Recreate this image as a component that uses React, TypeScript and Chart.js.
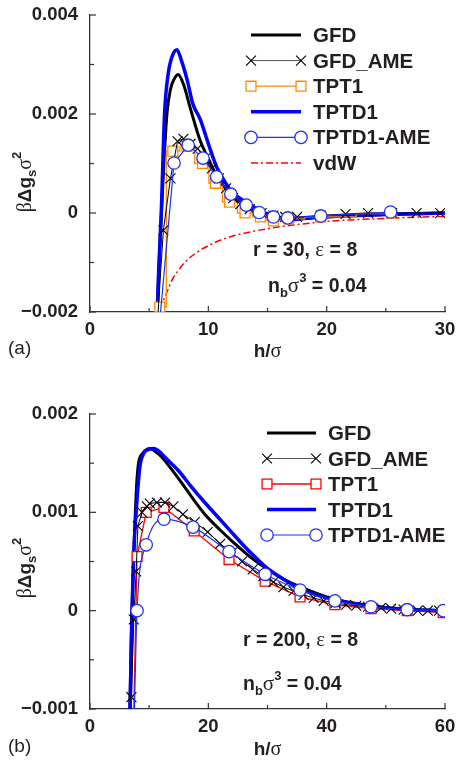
import React, { useEffect, useRef } from 'react';
import { Chart, registerables } from 'chart.js';

Chart.register(...registerables);

const SANS = '"Liberation Sans", Arial, Helvetica, sans-serif';
const SERIF = '"Liberation Serif", "DejaVu Serif", serif';

// ---------------- Panel (a): r = 30 ----------------
const aGfdH = [5.6, 5.8, 6.0, 6.2, 6.5, 6.8, 7.1, 7.45, 7.9, 8.5, 9.3, 10.0, 10.7, 11.8, 13.0, 14.0, 15.0, 17.0, 20.0, 25.0, 30.0];
const aGfdV = [-0.0025, -0.0012, -0.0002, 0.0008, 0.002, 0.0025, 0.0027, 0.0028, 0.0026, 0.0021, 0.00147, 0.0011, 0.00075, 0.0004, 0.0002, 0.00005, -0.00005, -0.00012, -0.00008, -0.00003, 0.0];

const aGfdAmeH = [5.7, 6.2, 6.8, 7.4, 7.9, 8.5, 9.1, 9.7, 10.3, 10.9, 11.5, 12.1, 12.7, 13.5, 14.5, 15.5, 16.5, 17.5, 19.5, 21.6, 23.5, 25.5, 27.6, 29.6];
const aGfdAmeV = [-0.0022, -0.00035, 0.0007, 0.00145, 0.0015, 0.0014, 0.0013, 0.0011, 0.0009, 0.0007, 0.0005, 0.0003, 0.00018, 0.00008, 0.0, -0.00005, -0.00008, -0.00008, -0.00005, -0.00002, 0.0, 0.0, 0.0, 0.0];

const aTpt1H = [5.9, 7.0, 8.2, 9.5, 10.6, 11.8, 13.1, 14.4, 15.5, 16.8, 19.5, 25.5];
const aTpt1V = [-0.0019, 0.00125, 0.00135, 0.001, 0.0006, 0.00022, 0.0, -0.00008, -0.00016, -0.00012, -0.00008, -0.00001];

const aTptd1H = [5.62, 5.8, 6.02, 6.3, 6.6, 7.0, 7.35, 7.7, 8.2, 8.7, 9.3, 10.0, 10.7, 11.4, 12.1, 12.9, 14.0, 15.0, 16.6, 19.4, 25.0, 30.0];
const aTptd1V = [-0.0025, -0.0012, 0.0, 0.002, 0.0028, 0.0032, 0.0033, 0.0031, 0.0027, 0.0022, 0.0019, 0.0014, 0.00093, 0.00063, 0.0004, 0.00026, 0.0001, -0.00002, -0.00014, -0.00008, -0.00003, 0.0];

const aTptd1AmeH = [5.85, 7.1, 8.3, 9.55, 10.7, 11.9, 13.2, 14.3, 15.5, 16.7, 19.5, 25.4];
const aTptd1AmeV = [-0.0023, 0.00101, 0.00137, 0.00111, 0.00073, 0.00038, 0.00016, 0.00001, -0.00008, -0.0001, -0.00006, 0.00002];

const aVdwH = [5.9, 6.5, 7.0, 7.5, 8.0, 9.0, 10.0, 11.0, 12.0, 13.0, 14.0, 16.0, 18.0, 20.0, 22.0, 25.0, 28.0, 30.0];
const aVdwV = [-0.00195, -0.0016, -0.00132, -0.00115, -0.001, -0.0008, -0.00066, -0.00055, -0.00047, -0.00041, -0.00036, -0.00028, -0.00022, -0.00017, -0.00014, -0.00011, -0.00008, -0.00007];

const aXTicks = [0, 10, 20, 30];
const aXTickLabels = ['0', '10', '20', '30'];
const aYTicks = [-0.002, 0, 0.002, 0.004];
const aYTickLabels = ['\u22120.002', '0', '0.002', '0.004'];
const aLegend = ['GFD', 'GFD_AME', 'TPT1', 'TPTD1', 'TPTD1-AME', 'vdW'];

// ---------------- Panel (b): r = 200 ----------------
const bGfdH = [6.6, 6.8, 7.0, 7.3, 7.6, 7.9, 8.2, 8.9, 9.6, 10.2, 11.0, 12.0, 13.5, 15.5, 17.5, 19.4, 22.0, 24.5, 27.0, 30.0, 33.0, 36.0, 40.0, 45.0, 50.0, 55.0, 60.0];
const bGfdV = [-0.0013, -0.0008, -0.0002, 0.0004, 0.0009, 0.0013, 0.0015, 0.0016, 0.00164, 0.00165, 0.00162, 0.00157, 0.00146, 0.0013, 0.00113, 0.00098, 0.00082, 0.00068, 0.00055, 0.00042, 0.00031, 0.00023, 0.00014, 0.00007, 0.00003, 0.00001, 0.0];

const bGfdAmeH = [7.0, 7.4, 7.8, 8.1, 8.8, 9.6, 10.1, 11.3, 12.7, 14.1, 15.7, 17.7, 19.9, 22.0, 24.0, 25.7, 27.5, 29.3, 31.0, 32.7, 34.4, 36.1, 37.8, 39.5, 41.5, 43.3, 45.0, 47.0, 49.2, 50.9, 53.0, 55.4, 57.1, 59.0];
const bGfdAmeV = [-0.00088, -0.00009, 0.0004, 0.00086, 0.001, 0.00106, 0.00109, 0.0011, 0.0011, 0.00106, 0.00098, 0.0009, 0.0008, 0.00068, 0.00059, 0.0005, 0.00042, 0.00035, 0.00029, 0.00024, 0.0002, 0.00016, 0.00013, 0.0001, 0.00008, 0.00006, 0.00005, 0.00004, 0.00003, 0.00002, 0.00001, 0.0, 0.0, 0.0];

const bTpt1H = [7.3, 7.95, 9.5, 12.5, 17.6, 23.5, 29.6, 35.5, 41.4, 47.5, 53.6, 59.7];
const bTpt1V = [-0.0013, 0.00055, 0.001, 0.00105, 0.00081, 0.00052, 0.0003, 0.00014, 0.00006, 0.00002, 0.0, -0.00002];

const bTptd1H = [6.7, 6.9, 7.1, 7.4, 7.8, 8.4, 9.1, 10.0, 10.7, 11.5, 13.0, 15.0, 17.0, 19.4, 21.5, 23.3, 26.0, 28.0, 30.0, 33.0, 36.0, 40.0, 45.0, 50.0, 55.0, 60.0];
const bTptd1V = [-0.0013, -0.0006, 0.0, 0.0006, 0.001, 0.00145, 0.0016, 0.00164, 0.00165, 0.00163, 0.00154, 0.00142, 0.00127, 0.0011, 0.00096, 0.00084, 0.00066, 0.00054, 0.00043, 0.00031, 0.00021, 0.00013, 0.00007, 0.00003, 0.00001, 0.0];

const bTptd1AmeH = [7.4, 7.95, 9.5, 12.5, 17.4, 23.5, 29.6, 35.5, 41.4, 47.5, 53.6, 59.7];
const bTptd1AmeV = [-0.0013, 0.0, 0.00067, 0.00093, 0.00085, 0.0006, 0.00037, 0.00021, 0.0001, 0.00004, 0.00001, 0.0];

const bXTicks = [0, 20, 40, 60];
const bXTickLabels = ['0', '20', '40', '60'];
const bYTicks = [-0.001, 0, 0.001, 0.002];
const bYTickLabels = ['\u22120.001', '0', '0.001', '0.002'];
const bLegend = ['GFD', 'GFD_AME', 'TPT1', 'TPTD1', 'TPTD1-AME'];

// ---------------- styles ----------------
const ORANGE = '#FF8A00';
const BLUE = '#0000FF';
const BLUE_THIN = '#2030FF';
const RED = '#FF0000';
const INK = '#231f20';

type Marker = { style: 'circle' | 'rect' | 'crossRot'; r: number; stroke: string; fill: string; lw: number };
type Sty = { color: string; width: number; legendColor?: string; dash?: number[]; marker?: Marker; stepped?: any; smooth?: boolean; order: number };

const makeStyles = (tptColor: string, ameSmooth: boolean): Record<string, Sty> => ({
  GFD: { color: '#000', width: 3, smooth: true, order: 4 },
  GFD_AME: { color: '#000', legendColor: '#555', width: 1, marker: { style: 'crossRot', r: 7, stroke: '#000', fill: 'rgba(0,0,0,0)', lw: 1.1 }, order: 1 },
  TPT1: { color: tptColor, width: 1.3, stepped: tptColor === ORANGE ? 'middle' : false, marker: { style: 'rect', r: 7, stroke: tptColor, fill: '#fff', lw: 1.3 }, order: 2 },
  TPTD1: { color: BLUE, width: 3.5, smooth: true, order: 3 },
  'TPTD1-AME': { color: BLUE_THIN, width: 1.2, smooth: ameSmooth, marker: { style: 'circle', r: 6.2, stroke: BLUE_THIN, fill: '#fff', lw: 1.3 }, order: 0 },
  vdW: { color: RED, width: 1.5, dash: [7, 3, 2, 3], smooth: true, order: 5 },
});

function dataset(name: string, h: number[], v: number[], st: Sty) {
  const m = st.marker;
  return {
    label: name,
    data: h.map((x, i) => ({ x, y: v[i] })),
    showLine: true,
    borderColor: st.color,
    borderWidth: st.width,
    borderDash: st.dash || [],
    stepped: st.stepped || false,
    cubicInterpolationMode: st.smooth ? 'monotone' : 'default',
    tension: 0,
    pointRadius: m ? m.r : 0,
    pointHoverRadius: m ? m.r : 0,
    pointStyle: m ? m.style : 'circle',
    pointBackgroundColor: m ? m.fill : 'transparent',
    pointBorderColor: m ? m.stroke : 'transparent',
    pointBorderWidth: m ? m.lw : 0,
    order: st.order,
  };
}

type Seg = { t: string; f: string; dy?: number };
const B = (s: number) => `bold ${s}px ${SANS}`;
const N = (s: number) => `${s}px ${SANS}`;
const G = (s: number) => `${s}px ${SERIF}`;

function richWidth(ctx: CanvasRenderingContext2D, segs: Seg[]) {
  let w = 0;
  for (const s of segs) { ctx.font = s.f; w += ctx.measureText(s.t).width; }
  return w;
}
function drawRich(ctx: CanvasRenderingContext2D, segs: Seg[], x: number, y: number) {
  let cx = x;
  for (const s of segs) {
    ctx.font = s.f;
    ctx.fillText(s.t, cx, y + (s.dy || 0));
    cx += ctx.measureText(s.t).width;
  }
}

function drawMarker(ctx: CanvasRenderingContext2D, m: Marker, x: number, y: number) {
  ctx.save();
  ctx.lineWidth = m.lw;
  ctx.strokeStyle = m.stroke;
  ctx.fillStyle = m.fill;
  ctx.setLineDash([]);
  ctx.beginPath();
  if (m.style === 'circle') {
    ctx.arc(x, y, m.r, 0, Math.PI * 2);
    ctx.fill(); ctx.stroke();
  } else if (m.style === 'rect') {
    const s = Math.SQRT1_2 * m.r;
    ctx.rect(x - s, y - s, 2 * s, 2 * s);
    ctx.fill(); ctx.stroke();
  } else {
    const s = Math.SQRT1_2 * m.r;
    ctx.moveTo(x - s, y - s); ctx.lineTo(x + s, y + s);
    ctx.moveTo(x + s, y - s); ctx.lineTo(x - s, y + s);
    ctx.stroke();
  }
  ctx.restore();
}

type Panel = {
  top: number;
  xAxisH: number;
  xMax: number; xStep: number; xTicks: number[]; xTickLabels: string[];
  yMin: number; yMax: number; yStep: number; yTicks: number[]; yTickLabels: string[];
  series: { name: string; h: number[]; v: number[] }[];
  styles: Record<string, Sty>;
  legend: string[];
  legendY0: number; legendDy: number; legendX1: number; legendX2: number; legendTx: number;
  notes: { segs: Seg[]; x: number; y: number }[];
  letter: string; letterY: number;
  xTitleY: number; yTitleCY: number;
};

const mkTickCb = (vals: number[], labels: string[]) => (v: number | string) => {
  const n = Number(v);
  const i = vals.findIndex(t => Math.abs(t - n) < 1e-9);
  return i >= 0 ? labels[i] : '';
};

function buildConfig(p: Panel): any {
  const tickFont = { family: SANS, size: 18.5, weight: 'bold' as const };
  const decor = {
    id: 'decor',
    afterDraw(chart: any) {
      const ctx: CanvasRenderingContext2D = chart.ctx;
      const xs = chart.scales.x, ys = chart.scales.y;
      const area = chart.chartArea;
      ctx.save();
      // inward ticks
      ctx.strokeStyle = '#333';
      ctx.lineWidth = 1.2;
      ctx.setLineDash([]);
      xs.ticks.forEach((t: any) => {
        const px = xs.getPixelForValue(t.value);
        const len = t.label !== '' ? 6 : 4;
        ctx.beginPath(); ctx.moveTo(px, area.bottom); ctx.lineTo(px, area.bottom - len); ctx.stroke();
      });
      ys.ticks.forEach((t: any) => {
        const py = ys.getPixelForValue(t.value);
        const len = t.label !== '' ? 6 : 4;
        ctx.beginPath(); ctx.moveTo(area.left, py); ctx.lineTo(area.left + len, py); ctx.stroke();
      });
      ctx.fillStyle = INK;
      ctx.textBaseline = 'alphabetic';
      ctx.textAlign = 'left';
      // y title
      const ySegs: Seg[] = [
        { t: '\u03B2', f: G(20) },
        { t: '\u0394g', f: B(19) },
        { t: 's', f: B(13), dy: 5 },
        { t: '\u03C3', f: G(20) },
        { t: '2', f: B(13), dy: -10 },
      ];
      ctx.save();
      ctx.translate(31, p.yTitleCY);
      ctx.rotate(-Math.PI / 2);
      const yw = richWidth(ctx, ySegs);
      drawRich(ctx, ySegs, -yw / 2, 0);
      ctx.restore();
      // x title
      const xSegs: Seg[] = [{ t: 'h/', f: B(19) }, { t: '\u03C3', f: G(20) }];
      const xw = richWidth(ctx, xSegs);
      drawRich(ctx, xSegs, (area.left + area.right) / 2 - xw / 2, p.xTitleY);
      // panel letter
      drawRich(ctx, [{ t: p.letter, f: N(19) }], 8, p.letterY);
      // annotations
      p.notes.forEach(n => drawRich(ctx, n.segs, n.x, n.y));
      // legend
      p.legend.forEach((name, i) => {
        const st = p.styles[name];
        const y = p.legendY0 + i * p.legendDy;
        ctx.save();
        ctx.strokeStyle = st.legendColor || st.color;
        ctx.lineWidth = st.width;
        ctx.setLineDash(st.dash || []);
        ctx.beginPath(); ctx.moveTo(p.legendX1, y); ctx.lineTo(p.legendX2, y); ctx.stroke();
        ctx.restore();
        if (st.marker) {
          drawMarker(ctx, st.marker, p.legendX1, y);
          drawMarker(ctx, st.marker, p.legendX2, y);
        }
        ctx.fillStyle = INK;
        drawRich(ctx, [{ t: name, f: B(20.5) }], p.legendTx, y + 7);
      });
      ctx.restore();
    },
  };

  return {
    type: 'scatter',
    data: {
      datasets: p.series.map(s => dataset(s.name, s.h, s.v, p.styles[s.name])),
    },
    options: {
      animation: false,
      responsive: false,
      devicePixelRatio: 1,
      layout: { padding: { left: 0, right: 11, top: p.top, bottom: 0 } },
      plugins: { legend: { display: false }, tooltip: { enabled: false } },
      scales: {
        x: {
          type: 'linear', position: 'bottom', min: 0, max: p.xMax,
          ticks: { stepSize: p.xStep, autoSkip: false, maxRotation: 0, padding: 7, color: INK, font: tickFont, callback: mkTickCb(p.xTicks, p.xTickLabels) },
          grid: { display: false, drawTicks: false },
          border: { display: true, color: '#333', width: 1.3 },
          afterFit: (s: any) => { s.height = p.xAxisH; s.paddingLeft = 0; s.paddingRight = 0; },
        },
        y: {
          type: 'linear', position: 'left', min: p.yMin, max: p.yMax,
          ticks: { stepSize: p.yStep, autoSkip: false, padding: 12, color: INK, font: tickFont, callback: mkTickCb(p.yTicks, p.yTickLabels) },
          grid: { display: false, drawTicks: false },
          border: { display: true, color: '#333', width: 1.3 },
          afterFit: (s: any) => { s.width = 90; s.paddingTop = 0; s.paddingBottom = 0; },
        },
      },
    },
    plugins: [decor],
  };
}

const panelA: Panel = {
  top: 15, xAxisH: 69,
  xMax: 30, xStep: 5, xTicks: aXTicks, xTickLabels: aXTickLabels,
  yMin: -0.002, yMax: 0.004, yStep: 0.001, yTicks: aYTicks, yTickLabels: aYTickLabels,
  series: [
    { name: 'TPTD1-AME', h: aTptd1AmeH, v: aTptd1AmeV },
    { name: 'GFD_AME', h: aGfdAmeH, v: aGfdAmeV },
    { name: 'TPT1', h: aTpt1H, v: aTpt1V },
    { name: 'TPTD1', h: aTptd1H, v: aTptd1V },
    { name: 'GFD', h: aGfdH, v: aGfdV },
    { name: 'vdW', h: aVdwH, v: aVdwV },
  ],
  styles: makeStyles(ORANGE, false),
  legend: aLegend,
  legendY0: 35, legendDy: 25.6, legendX1: 251, legendX2: 301, legendTx: 313,
  notes: [
    { segs: [{ t: 'r = 30, ', f: B(19.5) }, { t: '\u03B5', f: G(21) }, { t: ' = 8', f: B(19.5) }], x: 253, y: 256 },
    { segs: [{ t: 'n', f: B(19.5) }, { t: 'b', f: B(13), dy: 5 }, { t: '\u03C3', f: G(21) }, { t: '3', f: B(13), dy: -10 }, { t: ' = 0.04', f: B(19.5) }], x: 268, y: 292 },
  ],
  letter: '(a)', letterY: 354,
  xTitleY: 357, yTitleCY: 182,
};

const panelB: Panel = {
  top: 33, xAxisH: 53,
  xMax: 60, xStep: 10, xTicks: bXTicks, xTickLabels: bXTickLabels,
  yMin: -0.001, yMax: 0.002, yStep: 0.0005, yTicks: bYTicks, yTickLabels: bYTickLabels,
  series: [
    { name: 'TPTD1-AME', h: bTptd1AmeH, v: bTptd1AmeV },
    { name: 'GFD_AME', h: bGfdAmeH, v: bGfdAmeV },
    { name: 'TPT1', h: bTpt1H, v: bTpt1V },
    { name: 'TPTD1', h: bTptd1H, v: bTptd1V },
    { name: 'GFD', h: bGfdH, v: bGfdV },
  ],
  styles: makeStyles(RED, true),
  legend: bLegend,
  legendY0: 52, legendDy: 25.5, legendX1: 267, legendX2: 316, legendTx: 328,
  notes: [
    { segs: [{ t: 'r = 200, ', f: B(19.5) }, { t: '\u03B5', f: G(21) }, { t: ' = 8', f: B(19.5) }], x: 243, y: 265 },
    { segs: [{ t: 'n', f: B(19.5) }, { t: 'b', f: B(13), dy: 5 }, { t: '\u03C3', f: G(21) }, { t: '3', f: B(13), dy: -10 }, { t: ' = 0.04', f: B(19.5) }], x: 243, y: 309 },
  ],
  letter: '(b)', letterY: 371,
  xTitleY: 374, yTitleCY: 187,
};

export default function App() {
  const refA = useRef<HTMLCanvasElement | null>(null);
  const refB = useRef<HTMLCanvasElement | null>(null);
  useEffect(() => {
    const charts: Chart[] = [];
    if (refA.current) charts.push(new Chart(refA.current, buildConfig(panelA)));
    if (refB.current) charts.push(new Chart(refB.current, buildConfig(panelB)));
    return () => charts.forEach(c => c.destroy());
  }, []);
  return (
    <div style={{ position: 'fixed', left: 0, top: 0, width: 456, height: 762, background: '#fff' }}>
      <canvas ref={refA} width={456} height={381} style={{ display: 'block', width: 456, height: 381 }} />
      <canvas ref={refB} width={456} height={381} style={{ display: 'block', width: 456, height: 381 }} />
    </div>
  );
}
